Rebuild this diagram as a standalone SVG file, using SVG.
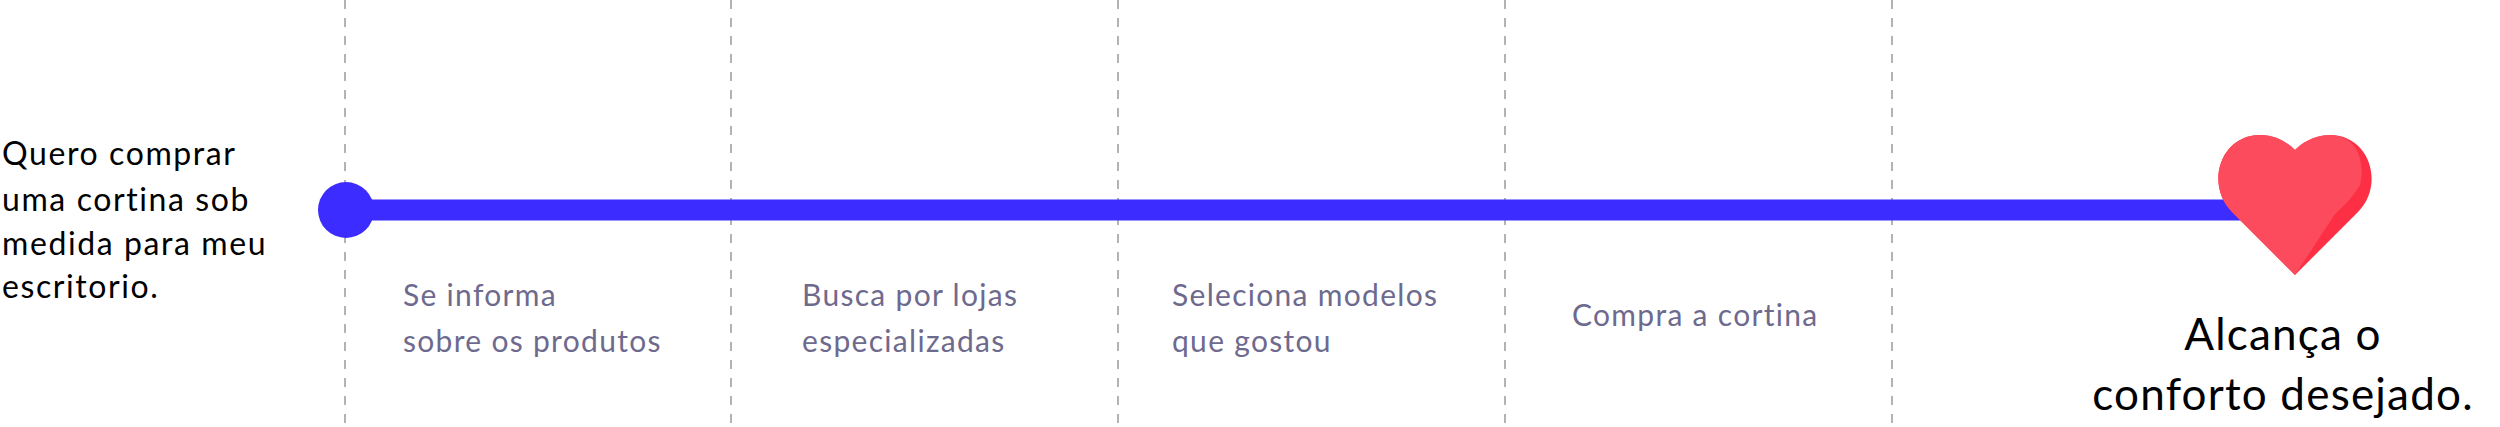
<svg xmlns="http://www.w3.org/2000/svg" width="2500" height="427" viewBox="0 0 2500 427">
<style>
.d{stroke:#b3b3b3;stroke-width:2;stroke-dasharray:9 9}
.g{font-family:Lato,"Liberation Sans",sans-serif;font-size:30px;letter-spacing:1.3px;fill:#6e6a8e}
.k{font-family:Lato,"Liberation Sans",sans-serif;fill:#000}
</style>
<rect width="2500" height="427" fill="#fff"/>
<g id="grid">
<line class="d" x1="345" y1="0" x2="345" y2="427"/>
<line class="d" x1="731" y1="0" x2="731" y2="427"/>
<line class="d" x1="1118" y1="0" x2="1118" y2="427"/>
<line class="d" x1="1505" y1="0" x2="1505" y2="427"/>
<line class="d" x1="1892" y1="0" x2="1892" y2="427"/>
</g>
<g id="connectors">
<line x1="346" y1="210" x2="2250" y2="210" stroke="#3d2cff" stroke-width="21"/>
</g>
<g id="start"><circle cx="346" cy="210" r="28" fill="#3d2cff"/></g>
<g id="intro" class="k" font-size="32" letter-spacing="1.6">
<text x="2" y="165">Quero comprar</text>
<text x="2" y="211">uma cortina sob</text>
<text x="2" y="255">medida para meu</text>
<text x="2" y="298">escritorio.</text>
</g>
<g id="step1" class="g"><text x="403" y="306">Se informa</text><text x="403" y="352">sobre os produtos</text></g>
<g id="step2" class="g"><text x="802" y="306">Busca por lojas</text><text x="802" y="352">especializadas</text></g>
<g id="step3" class="g"><text x="1172" y="306">Seleciona modelos</text><text x="1172" y="352">que gostou</text></g>
<g id="step4" class="g"><text x="1572" y="326">Compra a cortina</text></g>
<g id="goal">
<path d="M2295,275 L2232,212 C2205,185 2220,135 2260,135 C2278,135 2290,145 2295,150 C2300,145 2312,135 2330,135 C2370,135 2385,185 2358,212 Z" fill="#fc2f44"/>
<path d="M2295,275 L2287,267 L2232,212 C2205,185 2220,135 2260,135 C2278,135 2290,145 2295,150 C2300,145 2312,135 2330,135 C2356,135 2366,160 2360,185 C2352,198 2345,205 2335,214 Z" fill="#fc4b5c"/>
<text class="k" font-size="44" letter-spacing="1.2" x="2283" y="350" text-anchor="middle">Alcança o</text>
<text class="k" font-size="44" letter-spacing="1.2" x="2283" y="410" text-anchor="middle">conforto desejado.</text>
</g>
</svg>
